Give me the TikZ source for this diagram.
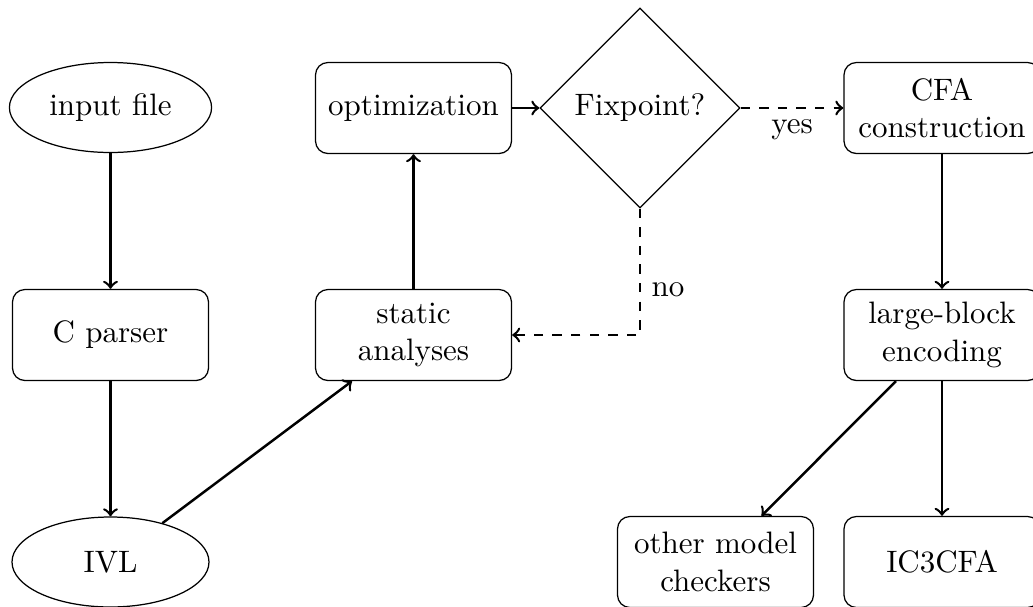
\documentclass[tikz,border=0pt]{standalone}
\usetikzlibrary{shapes.geometric}
\begin{document}
\begin{tikzpicture}[x=0.32258pt,y=-0.32258pt,
  box/.style={draw, rounded corners=4pt, align=center, inner sep=3.33pt,
    minimum width=196*0.32258pt, minimum height=91*0.32258pt},
  oval/.style={draw, ellipse, inner sep=3.33pt,
    minimum width=197*0.32258pt, minimum height=90*0.32258pt},
  decision/.style={draw, diamond, aspect=1, inner sep=3.33pt,
    minimum width=200*0.32258pt, minimum height=200*0.32258pt},
  conn/.style={->, thick},
  dconn/.style={->, thick, dashed},
  lbl/.style={font=\normalsize, inner sep=3.33pt}]
\useasboundingbox (0,0) rectangle (1033,607);
\node[oval] (input) at (110.5,107.5) {input file};
\node[box] (cparser) at (110.5,335) {C parser};
\node[oval] (ivl) at (110.5,562) {IVL};
\node[box] (static) at (413.5,335) {static\\analyses};
\node[box] (opt) at (413.5,108) {optimization};
\node[decision] (fix) at (640,108) {Fixpoint?};
\node[box] (cfa) at (942,108) {CFA\\construction};
\node[box] (lbe) at (942,335) {large-block\\encoding};
\node[box] (other) at (715.5,562) {other model\\checkers};
\node[box] (ic3) at (942,562) {IC3CFA};
\draw[conn] (input) -- (cparser);
\draw[conn] (cparser) -- (ivl);
\draw[conn] (ivl) -- (static);
\draw[conn] (static) -- (opt);
\draw[conn] (opt) -- (fix);
\draw[dconn] (fix) -- node[lbl, below] {yes} (cfa);
\draw[dconn] (fix.south) |- node[lbl, right, pos=0.32] {no} (static.east);
\draw[conn] (cfa) -- (lbe);
\draw[conn] (lbe) -- (other);
\draw[conn] (lbe) -- (ic3);
\end{tikzpicture}
\end{document}
